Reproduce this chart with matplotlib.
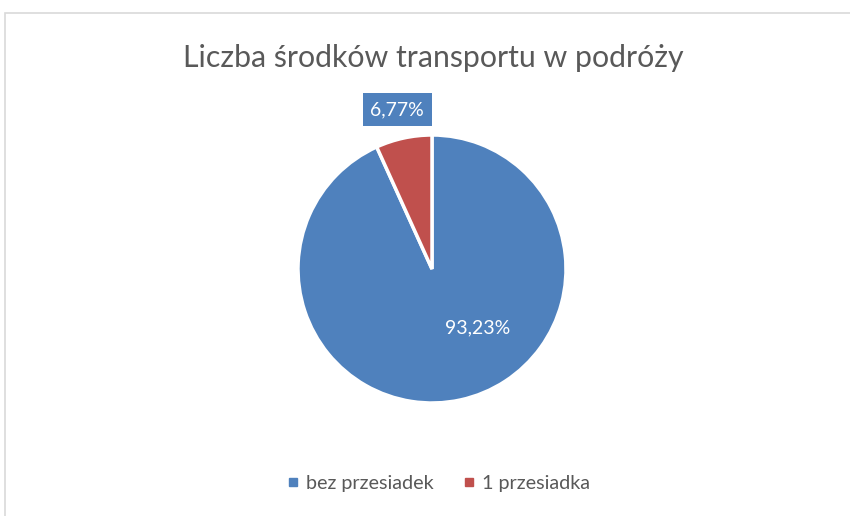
import matplotlib.pyplot as plt
from matplotlib.patches import Rectangle
from matplotlib.lines import Line2D

plt.rcParams['font.family'] = ['Lato', 'DejaVu Sans']

categories = ['bez przesiadek', '1 przesiadka']
values = [93.23, 6.77]
colors = ['#4F81BD', '#C0504D']
title = 'Liczba środków transportu w podróży'

fig = plt.figure(figsize=(8.5, 5.16), dpi=100)
fig.patches.append(Rectangle((5/850, -0.1), 1.1, 1 - 13/516 + 0.1, transform=fig.transFigure,
                             fill=False, edgecolor='#D9D9D9', linewidth=1.2))

ax = fig.add_axes([(432-134)/850, 1-(269+134)/516, 268/850, 268/516])
wedges, _ = ax.pie(values, colors=colors, startangle=90, counterclock=False,
                   wedgeprops=dict(edgecolor='white', linewidth=2.5))
ax.set_xlim(-1, 1)
ax.set_ylim(-1, 1)
ax.set_aspect('equal')

def fmt(v):
    return f'{v:.2f}%'.replace('.', ',')

# inside label for large slice
ax.text(0.34, -0.44, fmt(values[0]), color='white', fontsize=14, ha='center', va='center')
# boxed label for small slice
ax.text(-0.26, 1.19, fmt(values[1]), color='white', fontsize=14, ha='center', va='center',
        bbox=dict(boxstyle='square,pad=0.4', facecolor=colors[0], edgecolor='none'))

fig.text(433/850, 1-58/516, title, ha='center', va='center', fontsize=21.8, color='#595959')

handles = [Line2D([0], [0], marker='s', linestyle='none', markersize=6,
                  markerfacecolor=c, markeredgecolor=c) for c in colors]
fig.legend(handles, categories, loc='center', bbox_to_anchor=(437/850, 1-483/516), ncol=2,
           frameon=False, fontsize=14.2, labelcolor='#595959', handletextpad=0.25,
           columnspacing=1.3, handlelength=0.9)

fig.savefig('out.png', dpi=100)
